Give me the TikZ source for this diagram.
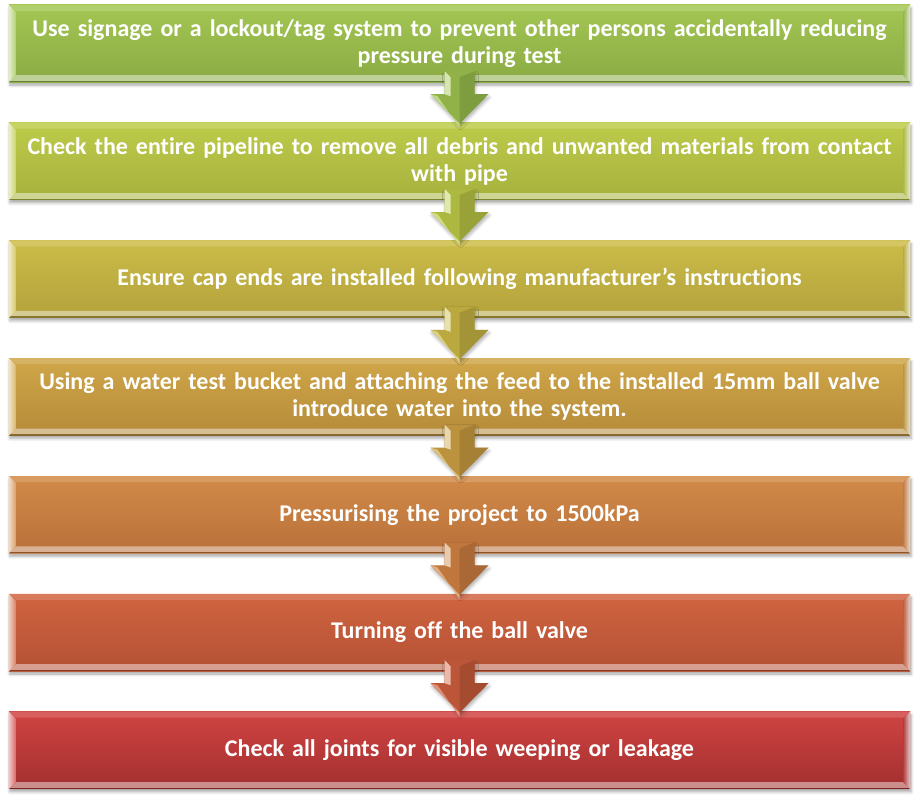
\documentclass[tikz,border=0pt]{standalone}
\usepackage{fontspec}
\setmainfont{Carlito}[Ligatures={NoCommon,NoRequired,NoContextual,NoRare},
  Contextuals={NoAlternate}]
\usetikzlibrary{calc,shadows.blur}

% top / bottom shades of the seven step boxes
\definecolor{t1}{HTML}{A3C653}\definecolor{b1}{HTML}{8AAB44}
\definecolor{t2}{HTML}{BDCB4A}\definecolor{b2}{HTML}{A6B13D}
\definecolor{t3}{HTML}{CBBC48}\definecolor{b3}{HTML}{B3A23C}
\definecolor{t4}{HTML}{CFA648}\definecolor{b4}{HTML}{B58B3A}
\definecolor{t5}{HTML}{D18A48}\definecolor{b5}{HTML}{B9703A}
\definecolor{t6}{HTML}{D0643F}\definecolor{b6}{HTML}{B45135}
\definecolor{t7}{HTML}{D04442}\definecolor{b7}{HTML}{A22F2F}

\begin{document}
\begin{tikzpicture}[x=1bp,y=-1bp,
  stepbox/.style={rectangle, minimum width=901bp, minimum height=77bp,
    inner sep=0pt, text=white, align=center, text width=899bp,
    font=\bfseries\fontsize{24bp}{27bp}\selectfont,
    top color=t#1, bottom color=b#1,
    blur shadow={shadow xshift=1bp, shadow yshift=-3bp,
      shadow blur radius=3bp, shadow opacity=35}},
  arrowshadow/.style={blur shadow={shadow xshift=1bp, shadow yshift=-3bp,
      shadow blur radius=3bp, shadow opacity=30}},
]
\useasboundingbox (0,0) rectangle (923,802);

% step boxes
\node[stepbox=1] (b1) at (459.5,43.5)
  {Use signage or a lockout/tag system to prevent other persons accidentally reducing\\pressure during test};
\node[stepbox=2] (b2) at (459.5,161.3)
  {Check the entire pipeline to remove all debris and unwanted materials from contact\\with pipe};
\node[stepbox=3] (b3) at (459.5,279.1)
  {Ensure cap ends are installed following manufacturer’s instructions};
\node[stepbox=4] (b4) at (459.5,396.9)
  {Using a water test bucket and attaching the feed to the installed 15mm ball valve\\introduce water into the system.};
\node[stepbox=5] (b5) at (459.5,514.7)
  {Pressurising the project to 1500kPa};
\node[stepbox=6] (b6) at (459.5,632.5)
  {Turning off the ball valve};
\node[stepbox=7] (b7) at (459.5,750.3)
  {Check all joints for visible weeping or leakage};

% bevelled edges of the boxes
\foreach \i in {1,...,7}{
  \fill[t\i!85!white] (b\i.north west) -- (b\i.north east)
    -- ($(b\i.north east)+(-7,6)$) -- ($(b\i.north west)+(7,6)$) -- cycle;
  \fill[b\i!55!white] (b\i.south west) -- (b\i.south east)
    -- ($(b\i.south east)+(-7,-7)$) -- ($(b\i.south west)+(7,-7)$) -- cycle;
  \fill[b\i!75!black] (b\i.south west) -- (b\i.south east)
    -- ($(b\i.south east)+(0,-1.5)$) -- ($(b\i.south west)+(0,-1.5)$) -- cycle;
  \shade[left color=t\i!30!white, right color=t\i!80!white]
    (b\i.north west) -- ($(b\i.north west)+(7,7)$)
    -- ($(b\i.south west)+(7,-7)$) -- (b\i.south west) -- cycle;
  \shade[left color=b\i!90!white, right color=t\i!30!white]
    ($(b\i.north east)+(-7,7)$) -- (b\i.north east)
    -- (b\i.south east) -- ($(b\i.south east)+(-7,-7)$) -- cycle;
}

% block arrows between consecutive steps
\foreach \i/\j in {1/2,2/3,3/4,4/5,5/6,6/7}{
  \fill[b\i!75!t\i, arrowshadow]
    ([xshift=-15bp,yshift=11bp]b\i.south) -- ([xshift=15bp,yshift=11bp]b\i.south)
    -- ([xshift=15bp,yshift=-12bp]b\i.south) -- ([xshift=29bp,yshift=-12bp]b\i.south)
    -- ([yshift=-1bp]b\j.north) -- ([xshift=-29bp,yshift=-12bp]b\i.south)
    -- ([xshift=-15bp,yshift=-12bp]b\i.south) -- cycle;
  % darker right half
  \fill[b\i!80!black, opacity=0.5]
    ([yshift=5bp]b\i.south) -- ([xshift=15bp,yshift=11bp]b\i.south)
    -- ([xshift=15bp,yshift=-12bp]b\i.south) -- ([xshift=29bp,yshift=-12bp]b\i.south)
    -- ([yshift=-1bp]b\j.north) -- ([yshift=-14bp]b\i.south) -- cycle;
  % light facet on the shaft and head
  \fill[t\i!45!white]
    ([xshift=-15bp,yshift=11bp]b\i.south) -- ([xshift=-9bp,yshift=5bp]b\i.south)
    -- ([xshift=-9bp,yshift=-14bp]b\i.south) -- ([xshift=-15bp,yshift=-12bp]b\i.south) -- cycle;
  \fill[t\i!70!white]
    ([xshift=-29bp,yshift=-12bp]b\i.south) -- ([xshift=-22bp,yshift=-14bp]b\i.south)
    -- ([yshift=-5bp]b\j.north) -- ([yshift=-1bp]b\j.north) -- cycle;
}
\end{tikzpicture}
\end{document}
